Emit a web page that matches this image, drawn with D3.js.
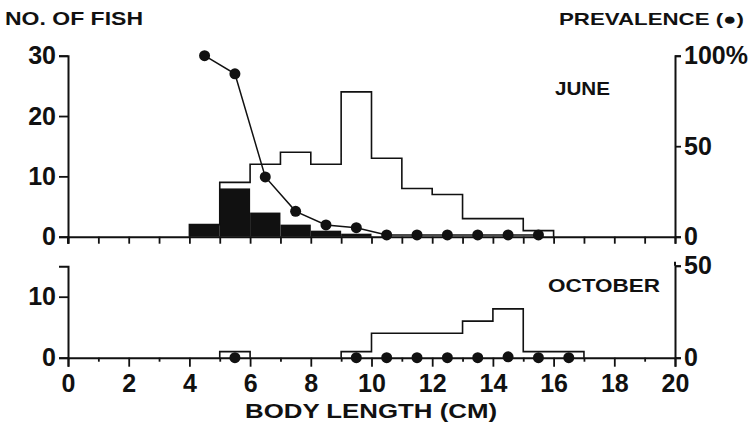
<!DOCTYPE html>
<html><head><meta charset="utf-8">
<script src="https://cdn.jsdelivr.net/npm/d3@7"></script>
<style>
html,body{margin:0;padding:0;background:#fff;}
text{font-family:"Liberation Sans",Arial,sans-serif;font-weight:bold;fill:#111;}
.tick text{font-family:"Liberation Sans Narrow","Arial Narrow","Liberation Sans",sans-serif;}
</style></head>
<body>
<svg id="c" width="753" height="431"></svg>
<script>
// ---- data ----
const binStarts = [4,5,6,7,8,9,10,11,12,13,14,15];
const juneTotal = [2,9,12,14,12,24,13,8,7,3,3,1];
const juneInfected = [2,8,4,2,1,0.5,0,0,0,0,0,0];
const junePrevX = [4.5,5.5,6.5,7.5,8.5,9.5,10.5,11.5,12.5,13.5,14.5,15.5];
const junePrev = [100,90,33,14,6.5,5,1,1,1,1,1,1];
const octBinStarts = [5,9,10,11,12,13,14,15,16];
const octTotal = [1,1,4,4,4,6,8,1,1];
const octPrevX = [5.5,9.5,10.5,11.5,12.5,13.5,14.5,15.5,16.5];
const octPrev = [0,0,0,0,0,0,0.5,0,0];
const xTicks = [0,2,4,6,8,10,12,14,16,18,20];
const juneLeftTicks = [0,10,20,30];
const juneRightTicks = [0,50,100];
const octLeftTicks = [0,10];
const octRightTicks = [0,50];

const svg = d3.select("#c");
const x = d3.scaleLinear().domain([0,20]).range([68,675]);
const yTop = d3.scaleLinear().domain([0,30]).range([236.7,55.7]);
const pTop = d3.scaleLinear().domain([0,100]).range([236.7,55.7]);
const yBot = d3.scaleLinear().domain([0,15]).range([357.7,266.2]);
const pBot = d3.scaleLinear().domain([0,50]).range([357.7,265.7]);
const ink = "#111";

function stepPath(starts, vals, y){
  const p = d3.path();
  let prevEnd = null;
  starts.forEach((s,i)=>{
    const e = s+1;
    if(prevEnd===null || prevEnd!==s){
      if(prevEnd!==null){ p.lineTo(x(prevEnd), y(0)); }
      p.moveTo(x(s), y(0));
    }
    p.lineTo(x(s), y(vals[i]));
    p.lineTo(x(e), y(vals[i]));
    prevEnd = e;
  });
  p.lineTo(x(prevEnd), y(0));
  return p.toString();
}

// ---------- TOP PANEL ----------
const gTop = svg.append("g");
gTop.selectAll("rect.inf").data(binStarts.map((s,i)=>({s, v:juneInfected[i]})).filter(d=>d.v>0))
  .enter().append("rect")
  .attr("x", d=>x(d.s)).attr("width", d=>x(d.s+1)-x(d.s))
  .attr("y", d=>yTop(d.v)).attr("height", d=>yTop(0)-yTop(d.v))
  .attr("fill", ink);
gTop.append("path").attr("d", stepPath(binStarts, juneTotal, yTop))
  .attr("fill","none").attr("stroke",ink).attr("stroke-width",1.6);

const xAxisTop = d3.axisBottom(x).tickValues(d3.range(0,21)).tickSize(7).tickFormat("");
gTop.append("g").attr("transform",`translate(0,${yTop(0)})`).call(xAxisTop);
const yAxisTopL = d3.axisLeft(yTop).tickValues(juneLeftTicks).tickSize(9).tickFormat(d3.format("d"));
gTop.append("g").attr("transform",`translate(${x(0)},0)`).call(yAxisTopL);
const yAxisTopR = d3.axisRight(pTop).tickValues(juneRightTicks).tickSize(6).tickFormat(d=> d===100? "100%": d);
gTop.append("g").attr("transform",`translate(${x(20)},0)`).call(yAxisTopR);
// small extension of the left axis below the baseline
gTop.append("line").attr("x1",x(0)).attr("x2",x(0)).attr("y1",yTop(0)).attr("y2",yTop(0)+7)
  .attr("stroke",ink).attr("stroke-width",2);

gTop.append("path").datum(junePrevX.map((v,i)=>[v,junePrev[i]]))
  .attr("d", d3.line().x(d=>x(d[0])).y(d=>pTop(d[1])))
  .attr("fill","none").attr("stroke",ink).attr("stroke-width",1.5);
gTop.selectAll("circle").data(junePrevX.map((v,i)=>[v,junePrev[i]]))
  .enter().append("circle").attr("cx",d=>x(d[0])).attr("cy",d=>pTop(d[1])).attr("r",5.5).attr("fill",ink);

// ---------- BOTTOM PANEL ----------
const gBot = svg.append("g");
gBot.append("path").attr("d", stepPath(octBinStarts, octTotal, yBot))
  .attr("fill","none").attr("stroke",ink).attr("stroke-width",1.6);
const xAxisBot = d3.axisBottom(x).tickValues(d3.range(0,21)).tickSizeOuter(0)
  .tickSize(9).tickFormat(d=> d%2===0 ? d : "");
const gxb = gBot.append("g").attr("transform",`translate(0,${yBot(0)})`).call(xAxisBot);
gxb.selectAll(".tick").filter(d=>d%2===1).select("line").attr("y2",4);
const yAxisBotL = d3.axisLeft(yBot).tickValues(octLeftTicks).tickSize(9).tickFormat(d3.format("d"));
gBot.append("g").attr("transform",`translate(${x(0)},0)`).call(yAxisBotL);
const yAxisBotR = d3.axisRight(pBot).tickValues(octRightTicks).tickSize(6);
gBot.append("g").attr("transform",`translate(${x(20)},0)`).call(yAxisBotR);
gBot.append("line").attr("x1",x(20)).attr("x2",x(20)).attr("y1",pBot(50)).attr("y2",pBot(50)-4)
  .attr("stroke",ink).attr("stroke-width",2);
gBot.selectAll("circle").data(octPrevX.map((v,i)=>[v,octPrev[i]]))
  .enter().append("circle").attr("cx",d=>x(d[0])).attr("cy",d=>pBot(d[1])).attr("r",5.5).attr("fill",ink);

svg.selectAll(".domain").attr("stroke",ink).attr("stroke-width",2);
svg.selectAll(".tick line").attr("stroke",ink).attr("stroke-width",1.8);
svg.selectAll(".tick text").style("font-size","25px").attr("fill",ink);
gxb.selectAll(".tick text").attr("dy","0.9em");

svg.append("text").attr("x",5).attr("y",25).style("font-size","18px").attr("textLength",138).attr("lengthAdjust","spacingAndGlyphs").text("NO. OF FISH");
svg.append("text").attr("x",559).attr("y",25).style("font-size","17px").attr("textLength",185).attr("lengthAdjust","spacingAndGlyphs").text("PREVALENCE (●)");
svg.append("text").attr("x",555).attr("y",95).style("font-size","18px").attr("textLength",55).attr("lengthAdjust","spacingAndGlyphs").text("JUNE");
svg.append("text").attr("x",548).attr("y",292).style("font-size","18px").attr("textLength",112).attr("lengthAdjust","spacingAndGlyphs").text("OCTOBER");
svg.append("text").attr("x",245).attr("y",418).style("font-size","21px").attr("textLength",252).attr("lengthAdjust","spacingAndGlyphs").text("BODY LENGTH (CM)");
</script>
</body></html>
